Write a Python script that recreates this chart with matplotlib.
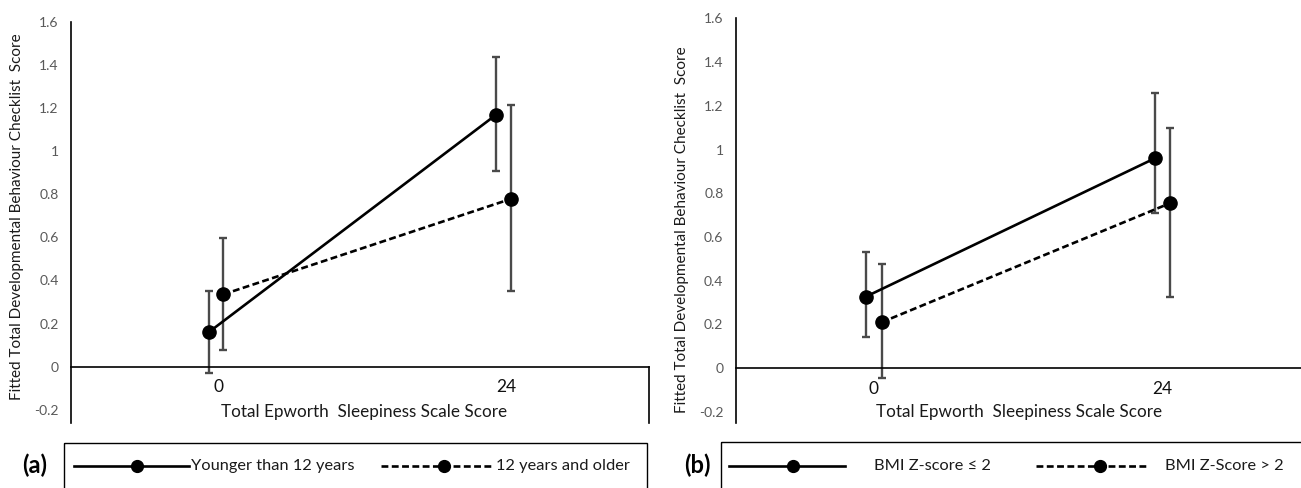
import matplotlib.pyplot as plt
from matplotlib.patches import Rectangle
from matplotlib.lines import Line2D

plt.rcParams['font.family'] = ['Lato', 'DejaVu Sans']

W, H = 1301, 488

# categories on the x axis (Epworth score)
ess_labels = ['0', '24']
ess_pos = [0, 1]

# panel (a): age groups, fitted score with CI
young_mean = [0.159, 1.169]
young_lo = [-0.029, 0.906]
young_hi = [0.349, 1.435]
older_mean = [0.335, 0.778]
older_lo = [0.079, 0.351]
older_hi = [0.597, 1.214]
names_a = ['Younger than 12 years', '12 years and older']

# panel (b): BMI z-score groups
bmi_low_mean = [0.328, 0.960]
bmi_low_lo = [0.142, 0.708]
bmi_low_hi = [0.531, 1.257]
bmi_high_mean = [0.210, 0.755]
bmi_high_lo = [-0.045, 0.327]
bmi_high_hi = [0.478, 1.100]
names_b = ['BMI Z-score \u2264 2', 'BMI Z-Score > 2']

y_ticks = [-0.2, 0, 0.2, 0.4, 0.6, 0.8, 1, 1.2, 1.4, 1.6]
y_tick_labels = ['-0.2', '0', '0.2', '0.4', '0.6', '0.8', '1', '1.2', '1.4', '1.6']

ylab = 'Fitted Total Developmental Behaviour Checklist  Score'
xlab = 'Total Epworth  Sleepiness Scale Score'

fig = plt.figure(figsize=(W / 100, H / 100), dpi=100)


def px_axes(l, t, r, b):
    return fig.add_axes([l / W, 1 - b / H, (r - l) / W, (b - t) / H])


def draw_panel(ax, series, dodges, xlim, ylim):
    for (mean, lo, hi, ls), d in zip(series, dodges):
        xs = [p + d for p in ess_pos]
        err = [[m - l for m, l in zip(mean, lo)], [h - m for m, h in zip(mean, hi)]]
        ax.errorbar(xs, mean, yerr=err, fmt='none', ecolor='#4a4a4a',
                    elinewidth=1.7, capsize=2.7, capthick=1.7, zorder=2)
        ax.plot(xs, mean, color='black', lw=1.9, linestyle=ls, marker='o',
                markersize=9.5, markerfacecolor='black', zorder=3)
    ax.set_xlim(*xlim)
    ax.set_ylim(*ylim)
    ax.spines['top'].set_visible(False)
    ax.spines['bottom'].set_position(('data', 0))
    ax.spines['right'].set_bounds(ylim[0], 0)
    for s in ['left', 'bottom', 'right']:
        ax.spines[s].set_linewidth(1.2)
    ax.set_yticks(y_ticks)
    ax.set_yticklabels(y_tick_labels)
    ax.set_xticks(ess_pos)
    ax.set_xticklabels(ess_labels)
    ax.tick_params(axis='y', length=0, pad=9, labelsize=10, labelcolor='#595959')
    ax.tick_params(axis='x', length=0, pad=9, labelsize=12.5, labelcolor='#111111')
    ax.patch.set_alpha(0)


dashed = (0, (2.6, 1.3))

ax1 = px_axes(71, 21.7, 649, 422.7)
draw_panel(ax1,
           [(young_mean, young_lo, young_hi, '-'), (older_mean, older_lo, older_hi, dashed)],
           [-0.034, 0.017], (-0.512, 1.497), (-0.26, 1.6))

ax2 = px_axes(736, 18.3, 1306.5, 422.7)
draw_panel(ax2,
           [(bmi_low_mean, bmi_low_lo, bmi_low_hi, '-'),
            (bmi_high_mean, bmi_high_lo, bmi_high_hi, dashed)],
           [-0.025, 0.028], (-0.476, 1.5), (-0.249, 1.6))

# overlay in pixel coordinates for labels and legend boxes
ov = fig.add_axes([0, 0, 1, 1])
ov.set_xlim(0, W)
ov.set_ylim(H, 0)
ov.axis('off')
ov.patch.set_alpha(0)

ov.text(17, 217, ylab, rotation=90, ha='center', va='center', fontsize=11, color='#1a1a1a')
ov.text(682, 229.5, ylab, rotation=90, ha='center', va='center', fontsize=11, color='#1a1a1a')
ov.text(364, 412, xlab, ha='center', va='center', fontsize=12.3, color='#1a1a1a')
ov.text(1019, 412, xlab, ha='center', va='center', fontsize=12.3, color='#1a1a1a')

ov.text(35, 465, '(a)', ha='center', va='center', fontsize=17, fontweight='bold')
ov.text(697, 465, '(b)', ha='center', va='center', fontsize=17, fontweight='bold')

ov.add_patch(Rectangle((64, 443), 583, 60, fill=False, ec='black', lw=1.0))
ov.add_patch(Rectangle((720.6, 442), 600, 60, fill=False, ec='black', lw=1.0))

legend_items = [
    ((74, 189, 137), '-', names_a[0], 191),
    ((381, 494, 444), dashed, names_a[1], 496),
    ((729, 845, 793), '-', names_b[0], 874),
    ((1036, 1146, 1100), dashed, names_b[1], 1165),
]
for (x0, x1, xm), ls, name, tx in legend_items:
    ov.add_line(Line2D([x0, x1], [466, 466], color='black', lw=1.9, linestyle=ls))
    ov.add_line(Line2D([xm], [466], marker='o', markersize=8.5, color='black', lw=0))
    ov.text(tx, 466, name, ha='left', va='center', fontsize=11.8, color='#1a1a1a')

fig.savefig('out.png', dpi=100)
